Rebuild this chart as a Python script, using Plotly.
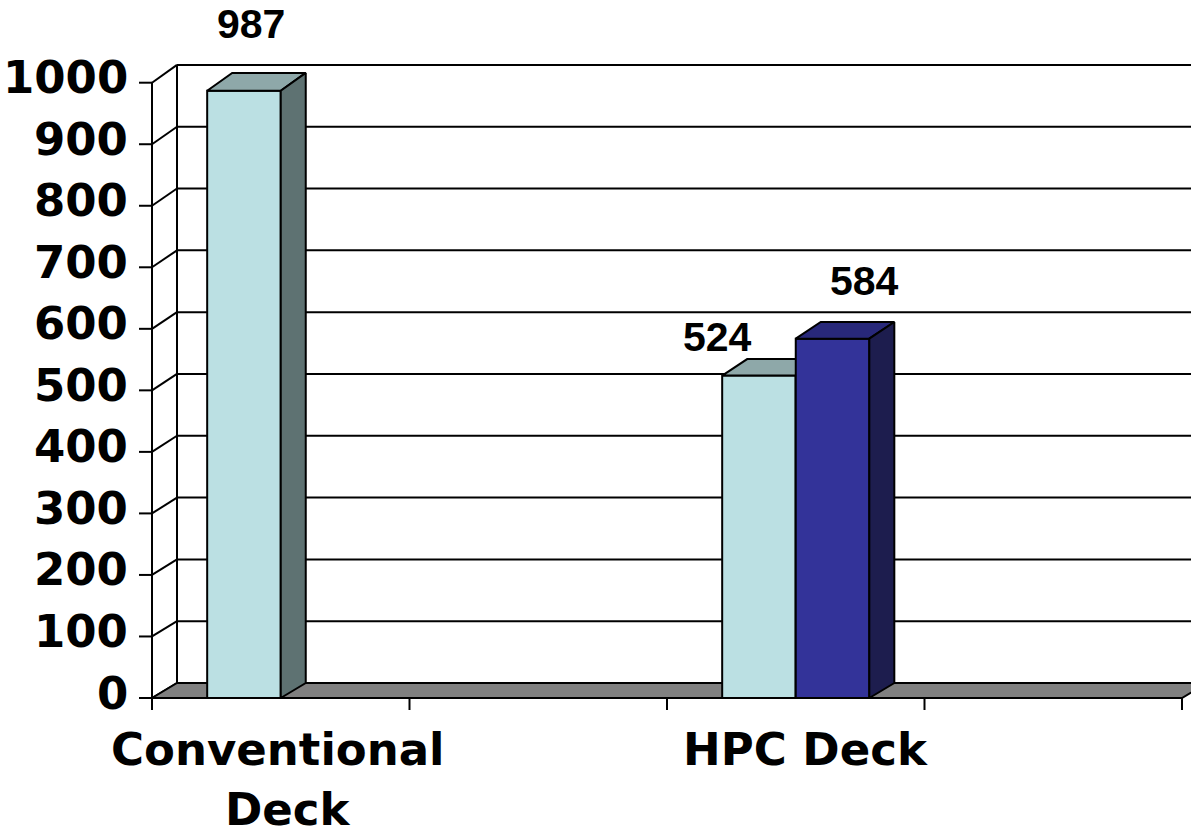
import plotly.graph_objects as go

# ---------------- data ----------------
categories = ["Conventional\nDeck", "", "HPC Deck", ""]
series_a = [987, None, 524, None]          # light blue series
series_b = [None, None, 584, None]         # dark blue series
y_ticks = [0, 100, 200, 300, 400, 500, 600, 700, 800, 900, 1000]

# ---------------- styles / geometry ----------------
W, H = 1191, 838
X0_PX, Y0_PX = 152, 698          # pixel position of (x=0, y=0)
PX_X = 257.5                     # pixels per category
PX_Y = 0.6153                    # pixels per value unit
GAP = 1.5                        # gap width (fraction of bar width)
DX = 25 / PX_X                   # depth offset in x (data units)


def dy(v):                       # depth offset in y (data units)
    return (15 + 0.0028 * v) / PX_Y


series_list = [series_a, series_b]
face_colors = [
    dict(front="#BBE0E3", top="#8EA8A9", side="#5E7272"),
    dict(front="#333399", top="#28287A", side="#1D1D4E"),
]
label_offsets = [
    [(7, 67), None, (-41, 39), None],
    [None, None, (32, 58), None],
]
cat_shift = [[-3, 7], None, [10], None]

x_min = -X0_PX / PX_X
x_max = (W - X0_PX) / PX_X
y_min = -(H - Y0_PX) / PX_Y
y_max = Y0_PX / PX_Y
n_cat = len(categories)
top_v = y_ticks[-1]

fig = go.Figure()


def lines(xs, ys, width=2, color="black"):
    fig.add_trace(go.Scatter(x=xs, y=ys, mode="lines",
                             line=dict(color=color, width=width),
                             hoverinfo="skip", showlegend=False))


def poly(pts, fill, width=2):
    xs = [p[0] for p in pts] + [pts[0][0]]
    ys = [p[1] for p in pts] + [pts[0][1]]
    fig.add_trace(go.Scatter(x=xs, y=ys, mode="lines", fill="toself",
                             fillcolor=fill,
                             line=dict(color="black", width=width),
                             hoverinfo="skip", showlegend=False))


# back wall gridlines
gx, gy = [], []
for v in y_ticks[1:]:
    gx += [DX, n_cat + DX, None]
    gy += [v + dy(v), v + dy(v), None]
lines(gx, gy, 2)

# left side wall: diagonals, back edge, front axis
sx, sy = [], []
for v in y_ticks:
    sx += [0, DX, None]
    sy += [v, v + dy(v), None]
sx += [DX, DX, None, 0, 0]
sy += [dy(0), top_v + dy(top_v), None, 0, top_v]
lines(sx, sy, 2)

# y tick marks
tx, ty = [], []
for v in y_ticks:
    tx += [-13 / PX_X, 0, None]
    ty += [v, v, None]
lines(tx, ty, 2)

# floor
poly([(0, 0), (n_cat, 0), (n_cat + DX, dy(0)), (DX, dy(0))], "#808080", 2)

# x tick marks
kx, ky = [], []
for k in range(n_cat + 1):
    kx += [k, k, None]
    ky += [0, -12 / PX_Y, None]
lines(kx, ky, 2)

# bars (pseudo 3D)
bw = 1 / (len(series_list) + GAP)
for si, ser in enumerate(series_list):
    col = face_colors[si]
    for ci, v in enumerate(ser):
        if v is None:
            continue
        x0 = ci + GAP / 2 * bw + si * bw
        x1 = x0 + bw
        poly([(x0, 0), (x1, 0), (x1, v), (x0, v)], col["front"], 2)
        poly([(x0, v), (x1, v), (x1 + DX, v + dy(v)), (x0 + DX, v + dy(v))],
             col["top"], 2)
        poly([(x1, 0), (x1 + DX, dy(0)), (x1 + DX, v + dy(v)), (x1, v)],
             col["side"], 2)

# data labels
annotations = []
for si, ser in enumerate(series_list):
    for ci, v in enumerate(ser):
        if v is None:
            continue
        x0 = ci + GAP / 2 * bw + si * bw
        xs, ys = label_offsets[si][ci]
        annotations.append(dict(
            x=x0 + bw / 2, y=v, text=str(v), showarrow=False,
            xanchor="center", yanchor="middle", xshift=xs, yshift=ys,
            font=dict(family="Liberation Sans, Arial", size=41,
                      color="black", weight="bold")))

# y tick labels
for v in y_ticks:
    annotations.append(dict(
        x=0, y=v, text=str(v), showarrow=False,
        xanchor="right", yanchor="middle", xshift=-22, yshift=5,
        font=dict(family="DejaVu Sans", size=45, color="black",
                  weight="bold")))

# category labels
for ci, c in enumerate(categories):
    if not c:
        continue
    for li, line in enumerate(c.split("\n")):
        annotations.append(dict(
            x=ci + 0.5, y=0, text=line, showarrow=False,
            xanchor="center", yanchor="middle",
            xshift=cat_shift[ci][li], yshift=-51 - 60 * li,
            font=dict(family="DejaVu Sans", size=45, color="black",
                      weight="bold")))

fig.update_layout(
    width=W, height=H,
    margin=dict(l=0, r=0, t=0, b=0),
    paper_bgcolor="white", plot_bgcolor="white",
    showlegend=False,
    xaxis=dict(range=[x_min, x_max], visible=False, fixedrange=True),
    yaxis=dict(range=[y_min, y_max], visible=False, fixedrange=True),
    annotations=annotations,
)

fig.write_html("out.html", config={"displayModeBar": False})
